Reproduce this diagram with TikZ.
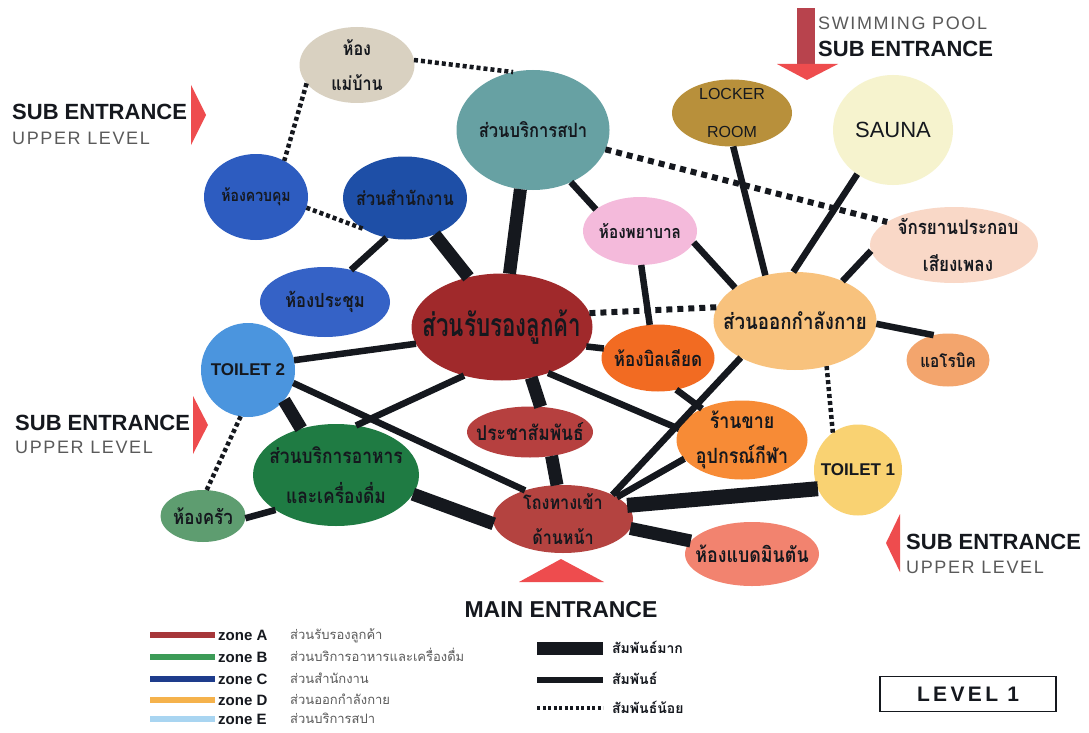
\documentclass[tikz,border=0pt]{standalone}
\usepackage{fontspec}
\setmainfont{Liberation Sans}
\newfontfamily\thaic[Script=Thai,FakeStretch=0.85]{Loma}
\newfontfamily\thaiv[Script=Thai,FakeStretch=0.7]{Loma}
\newfontfamily\thain[Script=Thai]{Loma}
\usetikzlibrary{shapes.geometric}
\definecolor{ink}{HTML}{15181E}
\definecolor{cMae}{HTML}{D9D1C1}
\definecolor{cSpa}{HTML}{67A1A3}
\definecolor{cLock}{HTML}{B8903B}
\definecolor{cSauna}{HTML}{F6F3CE}
\definecolor{cCtrl}{HTML}{2D5CC0}
\definecolor{cOff}{HTML}{1E4FA7}
\definecolor{cNurse}{HTML}{F4BADB}
\definecolor{cBike}{HTML}{F9D8C7}
\definecolor{cMeet}{HTML}{3562C6}
\definecolor{cRecep}{HTML}{A0292B}
\definecolor{cExer}{HTML}{F8C27D}
\definecolor{cAero}{HTML}{F3A56D}
\definecolor{cTb}{HTML}{4B95DE}
\definecolor{cBill}{HTML}{F26B22}
\definecolor{cPR}{HTML}{B6403F}
\definecolor{cShop}{HTML}{F78B36}
\definecolor{cTa}{HTML}{F9D272}
\definecolor{cFood}{HTML}{1F7B43}
\definecolor{cKit}{HTML}{5E9D70}
\definecolor{cLobby}{HTML}{B44340}
\definecolor{cBadm}{HTML}{F2836F}
\definecolor{entred}{HTML}{EE4C4E}
\definecolor{shaft}{HTML}{B8434D}
\definecolor{zA}{HTML}{A6373A}
\definecolor{zB}{HTML}{3C9B57}
\definecolor{zC}{HTML}{1E3C8C}
\definecolor{zD}{HTML}{F5B24C}
\definecolor{zE}{HTML}{A9D5F1}
\definecolor{gtext}{HTML}{5A5A5A}
\newcommand\tfs[2]{\thaic\bfseries\fontsize{#1}{#2}\selectfont}
\tikzset{
  zone/.style={ellipse, inner sep=0pt, outer sep=0pt, draw=none},
  lab/.style={align=center, text=ink, inner sep=0pt},
  strong/.style={line width=13pt, draw=ink},
  vstrong/.style={line width=15pt, draw=ink},
  normal/.style={line width=6.5pt, draw=ink},
  weak/.style={line width=4.5pt, draw=ink, dash pattern=on 4pt off 3pt},
  weakbig/.style={line width=6pt, draw=ink, dash pattern=on 6pt off 5pt},
  subt/.style={font=\bfseries\fontsize{22}{24}\selectfont, text=ink, inner sep=0pt},
  upt/.style={font=\fontsize{18}{20}\selectfont\addfontfeature{LetterSpace=9}, text=gtext, inner sep=0pt},
  ztxt/.style={font=\bfseries\fontsize{15}{16}\selectfont, text=ink, inner sep=0pt, anchor=base west},
  zth/.style={font=\thain\fontsize{13}{14}\selectfont, text=gtext, inner sep=0pt, anchor=base west},
  rth/.style={font=\thain\bfseries\fontsize{14}{15}\selectfont, text=ink, inner sep=0pt, anchor=base west},
}
\begin{document}
\begin{tikzpicture}[x=1pt,y=-1pt]
\path[use as bounding box, fill=white] (0,0) rectangle (1089,733);

% ---------- nodes ----------
\node[zone, fill=cMae, minimum width=115pt, minimum height=76pt,
  label={[lab, font=\tfs{19}{35}]center:ห้อง\\แม่บ้าน}] (mae) at (357,65) {};
\node[zone, fill=cSpa, minimum width=153pt, minimum height=120pt,
  label={[lab, font=\tfs{19.5}{21}]center:ส่วนบริการสปา}] (spa) at (533,130) {};
\node[zone, fill=cLock, minimum width=120pt, minimum height=67pt,
  label={[lab, font=\fontsize{16}{38}\selectfont]center:LOCKER\\ROOM}] (locker) at (732,113) {};
\node[zone, fill=cSauna, minimum width=120pt, minimum height=110pt,
  label={[lab, font=\fontsize{22}{24}\selectfont]center:SAUNA}] (sauna) at (893,130) {};
\node[zone, fill=cCtrl, minimum width=104pt, minimum height=86pt,
  label={[lab, font=\tfs{16.5}{18}]center:ห้องควบคุม}] (control) at (256,197) {};
\node[zone, fill=cOff, minimum width=124pt, minimum height=83pt,
  label={[lab, font=\tfs{19}{21}]center:ส่วนสำนักงาน}] (office) at (405,198) {};
\node[zone, fill=cNurse, minimum width=114pt, minimum height=68pt,
  label={[lab, font=\tfs{18}{20}]center:ห้องพยาบาล}] (nurse) at (640,231) {};
\node[zone, fill=cBike, minimum width=168pt, minimum height=76pt,
  label={[lab, font=\tfs{20}{37}, xshift=4pt]center:จักรยานประกอบ\\เสียงเพลง}] (bike) at (954,245) {};
\node[zone, fill=cMeet, minimum width=130pt, minimum height=70pt,
  label={[lab, font=\tfs{19.5}{21}]center:ห้องประชุม}] (meeting) at (325,302) {};
\node[zone, fill=cRecep, minimum width=181pt, minimum height=107pt,
  label={[lab, font=\thaiv\bfseries\fontsize{32}{34}\selectfont]center:ส่วนรับรองลูกค้า}] (recep) at (502,327) {};
\node[zone, fill=cExer, minimum width=163pt, minimum height=98pt,
  label={[lab, font=\tfs{22}{24}]center:ส่วนออกกำลังกาย}] (exer) at (795,321) {};
\node[zone, fill=cAero, minimum width=83pt, minimum height=53pt,
  label={[lab, font=\tfs{18}{20}]center:แอโรบิค}] (aero) at (948,360) {};
\node[zone, fill=cTb, minimum width=94pt, minimum height=94pt,
  label={[lab, font=\bfseries\fontsize{17}{19}\selectfont]center:TOILET 2}] (toilet2) at (248,370) {};
\node[zone, fill=cBill, minimum width=113pt, minimum height=67pt,
  label={[lab, font=\tfs{20}{22}]center:ห้องบิลเลียด}] (billiard) at (658,358) {};
\node[zone, fill=cPR, minimum width=126pt, minimum height=51pt,
  label={[lab, font=\tfs{20.5}{22}]center:ประชาสัมพันธ์}] (pr) at (530,432) {};
\node[zone, fill=cShop, minimum width=131pt, minimum height=79pt,
  label={[lab, font=\tfs{21}{35}]center:ร้านขาย\\อุปกรณ์กีฬา}] (shop) at (742,440) {};
\node[zone, fill=cTa, minimum width=88pt, minimum height=91pt,
  label={[lab, font=\bfseries\fontsize{17}{19}\selectfont]center:TOILET 1}] (toilet1) at (858,470) {};
\node[zone, fill=cFood, minimum width=166pt, minimum height=102pt,
  label={[lab, font=\tfs{20.5}{40}]center:ส่วนบริการอาหาร\\และเครื่องดื่ม}] (food) at (336,475) {};
\node[zone, fill=cKit, minimum width=85pt, minimum height=52pt,
  label={[lab, font=\tfs{20}{22}]center:ห้องครัว}] (kitchen) at (203,516) {};
\node[zone, fill=cLobby, minimum width=140pt, minimum height=68pt,
  label={[lab, font=\tfs{19}{35}]center:โถงทางเข้า\\ด้านหน้า}] (lobby) at (563,519) {};
\node[zone, fill=cBadm, minimum width=134pt, minimum height=64pt,
  label={[lab, font=\tfs{21}{23}]center:ห้องแบดมินตัน}] (badm) at (752,554) {};

% ---------- connectors ----------
% strong
\draw[strong] (spa.258) -- (recep.82);
\draw[strong] (office.309) -- (recep.124);
\draw[strong] (toilet2.320) -- (food.127);
\draw[strong] (food.346) -- (lobby.184);
\draw[strong] (pr.312) -- (lobby.100);
\draw[strong] (recep.300) -- (pr.67);
\draw[vstrong] (lobby.12) -- (toilet1.205);
\draw[strong] (lobby.352) -- (badm.168);
% normal
\draw[normal] (office.245) -- (meeting.51);
\draw[normal] (spa.306) -- (nurse.154);
\draw[normal] (locker.272) -- (exer.123);
\draw[normal] (sauna.231) -- (exer.92);
\draw[normal] (bike.184) -- (exer.40);
\draw[normal] (nurse.348) -- (exer.151);
\draw[normal] (nurse.272) -- (billiard.104);
\draw[normal] (exer.358) -- (aero.120);
\draw[normal] (recep.347) -- (billiard.170);
\draw[normal] (toilet2.12) -- (recep.191);
\draw[normal] (toilet2.344) -- (lobby.143);
\draw[normal] (recep.232) -- (food.68);
\draw[normal] (recep.315) -- (shop.170);
\draw[normal] (exer.214) -- (lobby.26);
\draw[normal] (billiard.300) -- (shop.142);
\draw[normal] (shop.198) -- (lobby.22);
\draw[normal] (kitchen.357) -- (food.210);
% weak
\draw[weak] (mae.5) -- (spa.109);
\draw[weak] (mae.200) -- (control.52);
\draw[weak] (control.348) -- (office.217);
\draw[weakbig] (spa.345) -- (bike.161);
\draw[weakbig] (recep.9) -- (exer.170);
\draw[weak] (exer.305) -- (toilet1.124);
\draw[weak] (toilet2.261) -- (kitchen.82);

% ---------- entrances ----------
\fill[entred] (191,85) -- (206,115) -- (191,145) -- cycle;
\node[subt, anchor=base west] (se1) at (12,120) {SUB ENTRANCE};
\node[upt, anchor=base west] (ul1) at (12,145) {UPPER LEVEL};

\fill[entred] (193,396) -- (208,425) -- (193,454) -- cycle;
\node[subt, anchor=base west] (se2) at (15,430) {SUB ENTRANCE};
\node[upt, anchor=base west] (ul2) at (15,453) {UPPER LEVEL};

\fill[entred] (900,514) -- (886,543) -- (900,572) -- cycle;
\node[subt, anchor=base west] (se3) at (906,549) {SUB ENTRANCE};
\node[upt, anchor=base west] (ul3) at (906,573) {UPPER LEVEL};

\fill[shaft] (797,8) rectangle (815,65);
\fill[entred] (777,64) -- (838,64) -- (807,80) -- cycle;
\node[upt, anchor=base west] (sp) at (818,30) {SWIMMING POOL};
\node[subt, anchor=base west] (se4) at (818,57) {SUB ENTRANCE};

\fill[entred] (519,582) -- (561,559) -- (604,582) -- cycle;
\node[subt, anchor=base, font=\bfseries\fontsize{23}{25}\selectfont] (me) at (561,617) {MAIN ENTRANCE};

% ---------- legend ----------
\foreach \c/\yy/\z/\t in {zA/635/A/ส่วนรับรองลูกค้า, zB/657/B/ส่วนบริการอาหารและเครื่องดื่ม, zC/679/C/ส่วนสำนักงาน, zD/700/D/ส่วนออกกำลังกาย, zE/719/E/ส่วนบริการสปา}{
  \draw[line width=6pt, draw=\c] (150,\yy) -- (215,\yy);
  \node[ztxt] at (218,\yy+5) {zone \z};
  \node[zth] at (290,\yy+4) {\t};
}
\draw[line width=13pt, draw=ink] (537,648) -- (603,648);
\draw[line width=6pt, draw=ink] (537,680) -- (603,680);
\draw[line width=3.5pt, draw=ink, dash pattern=on 3pt off 2.5pt] (537,708) -- (603,708);
\node[rth] (r1) at (612,653) {สัมพันธ์มาก};
\node[rth] (r2) at (612,684) {สัมพันธ์};
\node[rth] (r3) at (612,713) {สัมพันธ์น้อย};

\node[draw=ink, line width=1.3pt, minimum width=176pt, minimum height=35pt, inner sep=0pt,
  font=\bfseries\fontsize{21}{22}\selectfont\addfontfeature{LetterSpace=16}, text=ink] (lvl) at (968,694) {LEVEL 1};
\end{tikzpicture}
\end{document}
